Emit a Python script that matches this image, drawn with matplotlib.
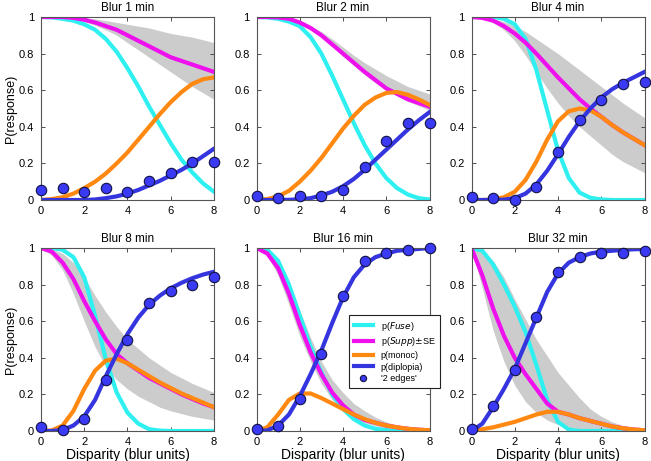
import matplotlib
matplotlib.use('Agg')
import matplotlib.pyplot as plt
import numpy as np

plt.rcParams['font.family'] = ['Liberation Sans', 'DejaVu Sans']

xs = [0, 0.5, 1, 1.5, 2, 2.5, 3, 3.5, 4, 4.5, 5, 5.5, 6, 6.5, 7, 7.5, 8]
xdots = [0, 1, 2, 3, 4, 5, 6, 7, 8]
titles = ['Blur 1 min', 'Blur 2 min', 'Blur 4 min', 'Blur 8 min', 'Blur 16 min', 'Blur 32 min']

# Blur 1 min
fuse1 = [1, .998, .99, .98, .96, .93, .88, .81, .72, .62, .51, .41, .31, .22, .15, .09, .045]
supp1 = [1, 1, 1, .995, .985, .97, .95, .93, .90, .87, .84, .81, .78, .76, .74, .72, .70]
hi1 = [1, 1, 1, .998, .995, .99, .98, .97, .96, .95, .94, .925, .91, .90, .89, .875, .86]
lo1 = [1, 1, 1, .99, .975, .955, .93, .90, .86, .82, .78, .74, .70, .66, .62, .585, .55]
mono1 = [0, .005, .015, .035, .065, .10, .145, .20, .26, .33, .40, .47, .535, .59, .635, .66, .67]
dipl1 = [0, 0, 0, 0, 0, .003, .01, .02, .035, .055, .08, .105, .135, .165, .20, .24, .28]
dots1 = [.055, .065, .045, .065, .045, .105, .15, .205, .21]

# Blur 2 min
fuse2 = [1, .998, .99, .975, .95, .89, .80, .68, .55, .42, .30, .20, .12, .065, .03, .01, .003]
supp2 = [1, 1, .998, .99, .97, .94, .90, .85, .80, .75, .70, .655, .61, .58, .55, .53, .51]
hi2 = [1, 1, .999, .993, .975, .95, .92, .88, .835, .79, .75, .715, .68, .65, .62, .60, .58]
lo2 = [1, 1, .997, .985, .965, .93, .89, .84, .79, .735, .685, .64, .60, .57, .54, .515, .49]
mono2 = [0, .005, .02, .05, .10, .16, .23, .31, .39, .46, .52, .56, .585, .59, .575, .55, .52]
dipl2 = [0, 0, 0, .001, .004, .01, .025, .045, .075, .115, .165, .22, .275, .33, .385, .435, .48]
dots2 = [.02, .01, .02, .02, .055, .18, .325, .42, .42]

# Blur 4 min
fuse4 = [1, 1, 1, .99, .96, .88, .71, .49, .27, .12, .04, .012, .003, 0, 0, 0, 0]
supp4 = [1, .995, .98, .95, .91, .86, .80, .735, .67, .61, .55, .50, .455, .41, .37, .335, .30]
hi4 = [1, .998, .99, .975, .95, .92, .88, .84, .80, .755, .71, .665, .62, .575, .53, .49, .45]
lo4 = [1, .99, .97, .93, .87, .79, .70, .61, .53, .46, .40, .35, .30, .25, .21, .18, .15]
mono4 = [0, 0, .003, .015, .045, .11, .21, .33, .43, .485, .50, .49, .455, .41, .37, .335, .30]
dipl4 = [0, 0, 0, .002, .01, .035, .085, .16, .25, .345, .43, .50, .56, .605, .64, .67, .70]
dots4 = [.015, .01, 0, .07, .265, .435, .545, .635, .645]

# Blur 8 min
fuse8 = [1, 1, .99, .95, .84, .63, .39, .21, .10, .04, .01, .002, 0, 0, 0, 0, 0]
supp8 = [1, .98, .92, .83, .71, .60, .50, .42, .37, .33, .29, .26, .23, .20, .175, .15, .13]
hi8 = [1, .995, .97, .92, .84, .74, .65, .57, .50, .45, .40, .36, .32, .29, .26, .235, .21]
lo8 = [1, .96, .88, .75, .60, .46, .35, .28, .23, .19, .16, .13, .11, .095, .08, .07, .06]
mono8 = [0, .003, .03, .11, .23, .33, .385, .395, .37, .335, .30, .265, .235, .205, .18, .155, .13]
dipl8 = [0, 0, .005, .03, .08, .17, .30, .42, .53, .62, .69, .74, .78, .81, .835, .855, .87]
dots8 = [.02, .005, .065, .28, .495, .70, .765, .80, .84]

# Blur 16 min
fuse16 = [1, .99, .93, .80, .63, .46, .32, .20, .12, .065, .03, .012, .004, 0, 0, 0, 0]
supp16 = [1, .97, .89, .75, .58, .43, .31, .21, .14, .09, .06, .045, .03, .02, .012, .007, .004]
hi16 = [1, .985, .93, .82, .66, .51, .38, .28, .21, .15, .11, .075, .05, .03, .018, .01, .005]
lo16 = [1, .96, .85, .69, .52, .38, .26, .17, .11, .07, .045, .028, .015, .008, .005, .002, 0]
mono16 = [0, .02, .09, .17, .205, .205, .18, .15, .12, .09, .065, .045, .03, .02, .012, .007, .004]
dipl16 = [0, .003, .03, .09, .19, .31, .44, .59, .73, .84, .91, .95, .97, .985, .99, .995, 1]
dots16 = [.01, .03, .175, .42, .74, .93, .97, .99, 1]

# Blur 32 min
fuse32 = [1, .985, .91, .80, .68, .54, .36, .17, .05, .008, 0, 0, 0, 0, 0, 0, 0]
supp32 = [1, .85, .67, .52, .40, .31, .23, .15, .105, .09, .07, .055, .04, .025, .015, .008, .004]
hi32 = [1, .985, .93, .84, .72, .61, .50, .41, .32, .25, .18, .12, .08, .05, .03, .02, .01]
lo32 = [1, .78, .55, .38, .25, .16, .10, .06, .035, .02, .01, .007, .005, .003, .002, .001, 0]
mono32 = [0, .01, .02, .035, .05, .07, .09, .105, .105, .09, .07, .055, .04, .025, .015, .008, .004]
dipl32 = [0, .04, .13, .23, .34, .48, .62, .76, .86, .92, .95, .97, .98, .985, .99, .993, .995]
dots32 = [.01, .135, .335, .625, .87, .95, .975, .97, .985]

panels = [
    (fuse1, supp1, hi1, lo1, mono1, dipl1, dots1),
    (fuse2, supp2, hi2, lo2, mono2, dipl2, dots2),
    (fuse4, supp4, hi4, lo4, mono4, dipl4, dots4),
    (fuse8, supp8, hi8, lo8, mono8, dipl8, dots8),
    (fuse16, supp16, hi16, lo16, mono16, dipl16, dots16),
    (fuse32, supp32, hi32, lo32, mono32, dipl32, dots32),
]

c_fuse = '#2ff0f0'
c_supp = '#ee11ee'
c_mono = '#ff8811'
c_dipl = '#3535e0'
c_dot = '#3a3af5'

fig = plt.figure(figsize=(6.51, 4.61), dpi=100)
lefts = [41 / 651, 256.5 / 651, 471.5 / 651]
bottoms = [1 - 200 / 461, 1 - 431 / 461]
w, h = 173 / 651, 183 / 461

axes = []
for i, (fuse, supp, hi, lo, mono, dipl, dots) in enumerate(panels):
    r, c = divmod(i, 3)
    ax = fig.add_axes([lefts[c], bottoms[r], w, h])
    axes.append(ax)
    ax.fill_between(xs, lo, hi, color='#cccccc', lw=0)
    ax.plot(xs, fuse, color=c_fuse, lw=3, label=r'p($\it{Fuse}$)', solid_joinstyle='round')
    ax.plot(xs, supp, color=c_supp, lw=3, label=r'p($\it{Supp}$)$\pm$SE', solid_joinstyle='round')
    ax.plot(xs, mono, color=c_mono, lw=3, label='p(monoc)', solid_joinstyle='round')
    ax.plot(xs, dipl, color=c_dipl, lw=3, label='p(diplopia)', solid_joinstyle='round')
    ax.plot(xdots, dots, 'o', color=c_dot, mec='#111144', mew=0.8, ms=7.5,
            label="'2 edges'", clip_on=False, zorder=5)
    ax.set_xlim(0, 8)
    ax.set_ylim(0, 1)
    ax.set_xticks([0, 2, 4, 6, 8])
    ax.set_yticks([0, 0.2, 0.4, 0.6, 0.8, 1])
    ax.set_yticklabels(['0', '0.2', '0.4', '0.6', '0.8', '1'])
    ax.tick_params(direction='in', top=True, right=True, length=3, width=0.6,
                   labelsize=8, color='#333333')
    ax.tick_params(axis='x', pad=4)
    ax.tick_params(axis='y', pad=5)
    for s in ax.spines.values():
        s.set_color('#555555')
        s.set_linewidth(0.8)
    ax.set_title(titles[i], fontsize=8.5, pad=4)
    if c == 0:
        ax.set_ylabel('P(response)', fontsize=9, labelpad=1)
    if r == 1:
        ax.set_xlabel('Disparity (blur units)', fontsize=10, labelpad=1)

leg = axes[4].legend(loc='upper left', bbox_to_anchor=(349 / 651, 1 - 315 / 461),
                     bbox_transform=fig.transFigure, borderaxespad=0, fontsize=6.5,
                     handlelength=2.2, handletextpad=0.8, labelspacing=0.3, borderpad=0.5,
                     fancybox=False, framealpha=1, edgecolor='#222222', markerscale=0.6)
leg.get_frame().set_linewidth(0.8)
leg.set_zorder(10)

fig.savefig('out.png', dpi=100)
